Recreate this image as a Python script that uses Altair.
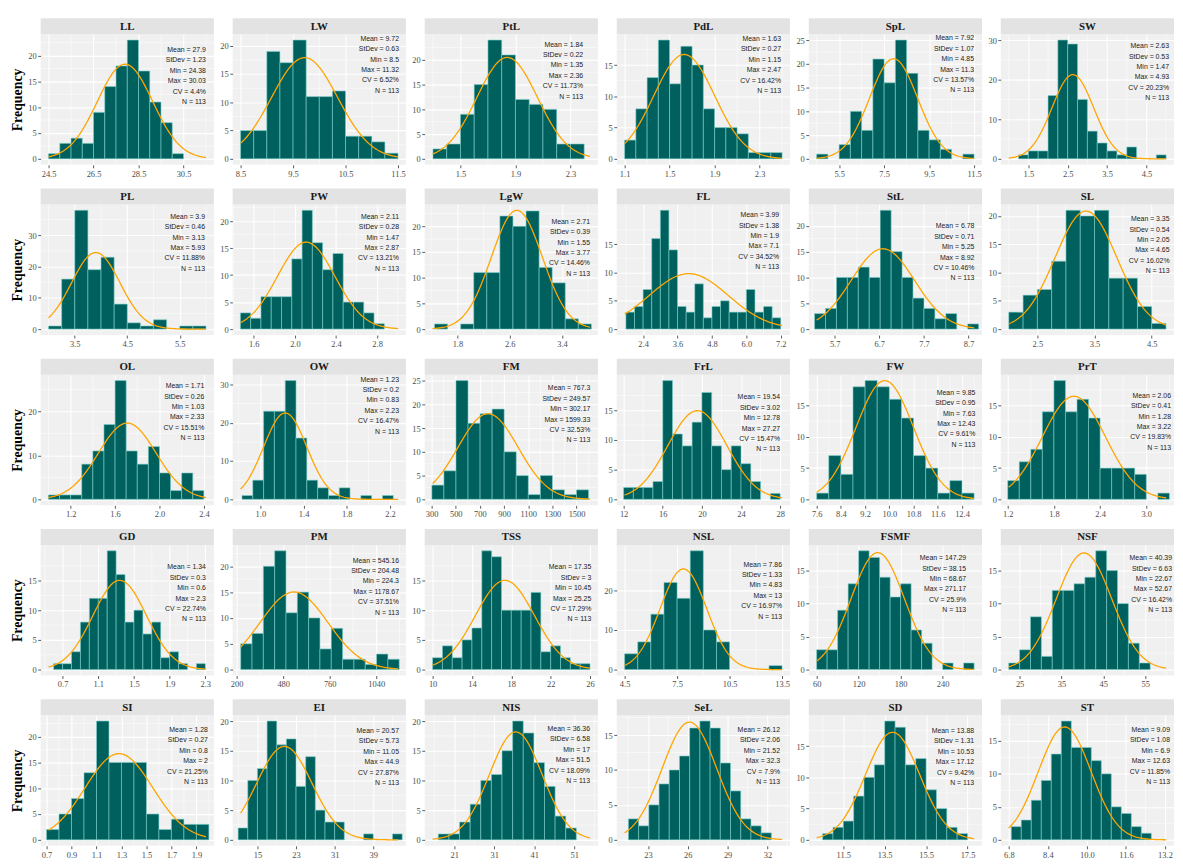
import altair as alt
import numpy as np
import pandas as pd

# ---------------- data ----------------
NAMES = ["LL", "LW", "PtL", "PdL", "SpL", "SW",
         "PL", "PW", "LgW", "FL", "StL", "SL",
         "OL", "OW", "FM", "FrL", "FW", "PrT",
         "GD", "PM", "TSS", "NSL", "FSMF", "NSF",
         "SI", "EI", "NIS", "SeL", "SD", "ST"]
MEAN = [27.9, 9.72, 1.84, 1.63, 7.92, 2.63,
        3.9, 2.11, 2.71, 3.99, 6.78, 3.35,
        1.71, 1.23, 767.3, 19.54, 9.85, 2.06,
        1.34, 545.16, 17.35, 7.86, 147.29, 40.39,
        1.28, 20.57, 36.36, 26.12, 13.88, 9.09]
STDEV = [1.23, 0.63, 0.22, 0.27, 1.07, 0.53,
         0.46, 0.28, 0.39, 1.38, 0.71, 0.54,
         0.26, 0.2, 249.57, 3.02, 0.95, 0.41,
         0.3, 204.48, 3, 1.33, 38.15, 6.63,
         0.27, 5.73, 6.58, 2.06, 1.31, 1.08]
MINV = [24.38, 8.5, 1.35, 1.15, 4.85, 1.47,
        3.13, 1.47, 1.55, 1.9, 5.25, 2.05,
        1.03, 0.83, 302.17, 12.78, 7.63, 1.28,
        0.6, 224.3, 10.45, 4.83, 68.67, 22.67,
        0.8, 11.05, 17, 21.52, 10.53, 6.9]
MAXV = [30.03, 11.32, 2.36, 2.47, 11.3, 4.93,
        5.93, 2.87, 3.77, 7.1, 8.92, 4.65,
        2.33, 2.23, 1599.33, 27.27, 12.43, 3.22,
        2.3, 1178.67, 25.25, 13, 271.17, 52.67,
        2, 44.9, 51.5, 32.3, 17.12, 12.63]
CV = [4.4, 6.52, 11.73, 16.42, 13.57, 20.23,
      11.88, 13.21, 14.46, 34.52, 10.46, 16.02,
      15.51, 16.47, 32.53, 15.47, 9.61, 19.83,
      22.74, 37.51, 17.29, 16.97, 25.9, 16.42,
      21.25, 27.87, 18.09, 7.9, 9.42, 11.85]
N_OBS = 113

BIN_START = [24.5, 8.5, 1.3, 1.1, 4.5, 1.25,
             3.0, 1.47, 1.45, 1.8, 5.25, 2.0,
             1.0, 0.83, 302.17, 12, 7.6, 1.2,
             0.6, 224.3, 10, 4.5, 60, 22.4,
             0.7, 11, 17, 21.52, 10.5, 6.9]
BIN_WIDTH = [0.5, 0.25, 0.1, 0.1, 0.5, 0.25,
             0.25, 0.1, 0.2, 0.3, 0.245, 0.25,
             0.1, 0.1, 99.78, 1, 0.4, 0.15,
             0.1, 68.17, 1, 0.75, 15, 2.6,
             0.1, 2, 2.654, 0.77, 0.5, 0.41]
COUNTS = [
    [1, 3, 4, 3, 9, 14, 18, 23, 17, 11, 7, 1],
    [5, 5, 19, 17, 21, 11, 11, 12, 4, 4, 3, 1],
    [2, 3, 9, 15, 24, 21, 12, 11, 10, 3, 3],
    [3, 8, 13, 19, 12, 18, 15, 8, 5, 5, 4, 1, 1, 1],
    [1, 0, 3, 10, 6, 21, 16, 25, 18, 6, 4, 2, 0, 1],
    [1, 2, 2, 16, 30, 29, 15, 7, 4, 2, 1, 3, 0, 0, 1],
    [1, 16, 38, 19, 23, 8, 2, 1, 3, 0, 1, 1],
    [3, 2, 6, 6, 6, 13, 22, 16, 11, 14, 5, 5, 3, 1],
    [1, 0, 1, 11, 11, 22, 20, 23, 12, 9, 2, 1],
    [3, 4, 7, 16, 21, 14, 4, 3, 8, 2, 4, 5, 3, 3, 7, 3, 4, 2],
    [3, 4, 10, 10, 12, 10, 23, 15, 10, 6, 4, 2, 3, 0, 1],
    [3, 6, 7, 12, 21, 20, 21, 9, 9, 4, 1],
    [1, 1, 1, 8, 11, 17, 27, 11, 8, 12, 6, 2, 6, 2],
    [1, 5, 23, 23, 31, 16, 5, 3, 1, 3, 0, 1, 0, 1],
    [3, 6, 25, 16, 18, 19, 10, 5, 1, 5, 2, 1, 2],
    [2, 2, 2, 3, 20, 11, 9, 13, 18, 9, 5, 9, 6, 3, 0, 1],
    [1, 7, 4, 18, 19, 18, 16, 13, 7, 5, 1, 3, 1],
    [3, 6, 8, 14, 19, 14, 16, 13, 5, 5, 5, 4, 0, 1],
    [1, 1, 3, 8, 12, 12, 20, 16, 8, 10, 6, 8, 2, 3, 1, 0, 1],
    [5, 7, 20, 23, 11, 15, 10, 4, 8, 2, 2, 1, 3, 2],
    [2, 4, 2, 5, 7, 20, 19, 10, 10, 10, 13, 3, 4, 2, 1, 1],
    [4, 7, 14, 22, 18, 30, 10, 7, 0, 0, 0, 1],
    [3, 3, 9, 13, 18, 17, 14, 11, 13, 6, 4, 0, 1, 0, 1],
    [1, 3, 8, 2, 12, 12, 13, 14, 18, 15, 10, 4, 1],
    [2, 5, 8, 13, 23, 15, 15, 15, 5, 2, 4, 3, 3],
    [2, 10, 12, 20, 16, 17, 9, 14, 5, 3, 3, 0, 0, 1, 0, 0, 1],
    [1, 1, 3, 6, 10, 11, 15, 20, 18, 13, 9, 4, 2],
    [3, 2, 5, 8, 10, 12, 16, 17, 16, 11, 7, 3, 2, 1],
    [1, 2, 3, 7, 10, 12, 19, 18, 12, 13, 8, 5, 2, 1],
    [2, 3, 6, 9, 13, 18, 14, 14, 12, 10, 5, 4, 2, 1],
]
X_DOMAIN = [
    [24.15, 31.85], [8.35, 11.65], [1.24, 2.50], [1.03, 2.57], [4.15, 11.85], [0.8, 5.2],
    [2.85, 6.15], [1.395, 3.08], [1.30, 3.95], [1.48, 7.52], [5.12, 9.0], [1.86, 4.89],
    [0.93, 2.49], [0.744, 2.347], [243, 1677], [11.3, 29.0], [7.34, 13.06], [1.11, 3.36],
    [0.454, 2.396], [176, 1219], [9.2, 26.8], [4.05, 13.95], [48.75, 296.25], [20.5, 61.9],
    [0.653, 2.04], [9.87, 45.77], [13.6, 56.9], [20.64, 33.7], [9.83, 18.2], [6.47, 13.57],
]
X_TICKS = [
    [24.5, 26.5, 28.5, 30.5], [8.5, 9.5, 10.5, 11.5], [1.5, 1.9, 2.3], [1.1, 1.5, 1.9, 2.3],
    [5.5, 7.5, 9.5, 11.5], [1.5, 2.5, 3.5, 4.5],
    [3.5, 4.5, 5.5], [1.6, 2.0, 2.4, 2.8], [1.8, 2.6, 3.4], [2.4, 3.6, 4.8, 6.0, 7.2],
    [5.7, 6.7, 7.7, 8.7], [2.5, 3.5, 4.5],
    [1.2, 1.6, 2.0, 2.4], [1.0, 1.4, 1.8, 2.2], [300, 500, 700, 900, 1100, 1300, 1500],
    [12, 16, 20, 24, 28], [7.6, 8.4, 9.2, 10.0, 10.8, 11.6, 12.4], [1.2, 1.8, 2.4, 3.0],
    [0.7, 1.1, 1.5, 1.9, 2.3], [200, 480, 760, 1040], [10, 14, 18, 22, 26],
    [4.5, 7.5, 10.5, 13.5], [60, 120, 180, 240], [25, 35, 45, 55],
    [0.7, 0.9, 1.1, 1.3, 1.5, 1.7, 1.9], [15, 23, 31, 39], [21, 31, 41, 51],
    [23, 26, 29, 32], [11.5, 13.5, 15.5, 17.5], [6.8, 8.4, 10.0, 11.6, 13.2],
]
Y5 = [0, 5, 10, 15, 20]
Y4 = [0, 5, 10, 15]
Y_TICKS = [
    Y5, Y5, Y5, Y4, [0, 5, 10, 15, 20, 25], [0, 10, 20, 30],
    [0, 10, 20, 30], Y5, Y5, Y4, Y5, Y5,
    [0, 10, 20], [0, 10, 20, 30], [0, 5, 10, 15, 20, 25], Y4, Y4, Y4,
    Y4, Y5, Y4, [0, 10, 20], Y4, Y4,
    Y5, Y5, Y5, Y4, Y4, Y4,
]

# ---------------- layout / style (not data) ----------------
TEXT_TOP = [16, 4.7, 10.7, 5, 4.3, 12.3,
            12.6, 12.6, 17.6, 11, 22.3, 15,
            11.7, 5, 14, 23, 18.4, 21.4,
            22.7, 16, 22.7, 20, 13.4, 13.4,
            15, 16, 14, 15, 16, 15]
TEXT_RIGHT = [8, 7, 15, 9, 8, 5,
              9, 7, 8, 11, 7.7, 4.5,
              9.7, 7, 7.7, 10, 6.7, 3,
              8, 7, 6.7, 8, 16, 2,
              6, 7, 8, 10, 8, 4]

W, H = 175, 132
STRIP_H = 16
BAR_FILL = "#00605D"
BAR_STROKE = "#7CCFCB"
CURVE = "#FFA500"
SERIF = "Liberation Serif"
SANS = "Liberation Sans"


def minor_positions(ticks, lo, hi):
    step = ticks[1] - ticks[0]
    pts = [ticks[0] - step / 2] + [(a + b) / 2 for a, b in zip(ticks[:-1], ticks[1:])] + [ticks[-1] + step / 2]
    return [p for p in pts if lo < p < hi]


def panel(i, first_col):
    lo, hi = X_DOMAIN[i]
    counts = COUNTS[i]
    b0, bw = BIN_START[i], BIN_WIDTH[i]
    m, s = MEAN[i], STDEV[i]

    bars = pd.DataFrame({
        "x0": [b0 + k * bw for k in range(len(counts))],
        "x1": [b0 + (k + 1) * bw for k in range(len(counts))],
        "n": counts,
    })
    bars = bars[bars["n"] > 0]

    inner = (hi - lo) / 1.1
    a, b = lo + 0.05 * inner, hi - 0.05 * inner
    cx = np.linspace(a, b, 150)
    cy = N_OBS * bw * np.exp(-0.5 * ((cx - m) / s) ** 2) / (s * np.sqrt(2 * np.pi))
    curve = pd.DataFrame({"cx": cx, "cy": cy})

    ymax = max(max(counts), float(cy.max()))
    xs = alt.Scale(domain=[lo, hi], nice=False, zero=False)
    ys = alt.Scale(domain=[-0.05 * ymax, 1.05 * ymax], nice=False, zero=False)

    xt = X_TICKS[i]
    fmt = "d" if all(float(t).is_integer() for t in xt) else ".1f"
    xaxis = alt.Axis(values=xt, format=fmt, title=None, grid=True, gridColor="white",
                     gridWidth=1.1, domain=False, tickColor="#333333", tickSize=3,
                     tickWidth=0.8, labelFont=SERIF, labelFontSize=8.5,
                     labelColor="#4D4D4D", labelPadding=1.5, labelFlush=False,
                     labelOverlap=False, labelSeparation=0, labelBound=False,
                     minExtent=14, maxExtent=14)
    yaxis_kw = dict(values=Y_TICKS[i], format="d", grid=True, gridColor="white",
                    gridWidth=1.1, domain=False, tickColor="#333333", tickSize=3,
                    tickWidth=0.8, labelFont=SERIF, labelFontSize=8.5,
                    labelColor="#4D4D4D", labelPadding=1.5, labelOverlap=False,
                    minExtent=13, maxExtent=13)
    if first_col:
        yaxis = alt.Axis(title="Frequency", titleFont=SERIF, titleFontSize=14,
                         titleFontWeight="bold", titleColor="#000000", titlePadding=3,
                         **yaxis_kw)
    else:
        yaxis = alt.Axis(title=None, **yaxis_kw)

    xminor = pd.DataFrame({"v": minor_positions(xt, lo, hi)})
    yminor = pd.DataFrame({"w": minor_positions(Y_TICKS[i], -0.05 * ymax, 1.05 * ymax)})

    g_x = alt.Chart(xminor).mark_rule(color="white", strokeWidth=0.5).encode(
        x=alt.X("v:Q", scale=xs, axis=xaxis))
    g_y = alt.Chart(yminor).mark_rule(color="white", strokeWidth=0.5).encode(
        y=alt.Y("w:Q", scale=ys, axis=yaxis))

    bar_layer = alt.Chart(bars).mark_rect(fill=BAR_FILL, stroke=BAR_STROKE,
                                           strokeWidth=0.6).encode(
        x=alt.X("x0:Q", scale=xs, axis=xaxis),
        x2="x1:Q",
        y=alt.Y("n:Q", scale=ys, axis=yaxis),
        y2=alt.datum(0),
    )
    line_layer = alt.Chart(curve).mark_line(color=CURVE, strokeWidth=1.3).encode(
        x=alt.X("cx:Q", scale=xs, axis=xaxis),
        y=alt.Y("cy:Q", scale=ys, axis=yaxis),
    )

    def g(v):
        return f"{v:g}"

    txt = "\n".join([
        f"Mean = {g(m)}", f"StDev = {g(s)}", f"Min = {g(MINV[i])}",
        f"Max = {g(MAXV[i])}", f"CV = {g(CV[i])}%", f"N = {N_OBS}",
    ])
    stats = alt.Chart(pd.DataFrame({"t": [txt]})).mark_text(
        align="right", baseline="top", lineBreak="\n", lineHeight=10.5,
        font=SANS, fontSize=7, color="#1A1A1A").encode(
        x=alt.value(W - TEXT_RIGHT[i]), y=alt.value(TEXT_TOP[i] - 4), text="t:N")

    head = pd.DataFrame({"name": [NAMES[i]]})
    strip = alt.Chart(head).mark_rect(fill="#E3E3E3").encode(
        x=alt.value(0), x2=alt.value(W), y=alt.value(-STRIP_H), y2=alt.value(0))
    strip_t = alt.Chart(head).mark_text(font=SERIF, fontSize=11, fontWeight="bold",
                                        color="#1A1A1A", baseline="middle").encode(
        x=alt.value(W / 2), y=alt.value(-STRIP_H / 2 + 0.5), text="name:N")

    return alt.layer(g_x, g_y, bar_layer, line_layer, stats, strip, strip_t).properties(
        width=W, height=H)


rows = []
for r in range(5):
    cells = [panel(r * 6 + c, c == 0) for c in range(6)]
    rows.append(alt.hconcat(*cells, spacing=5))

chart = alt.vconcat(*rows, spacing=10).properties(
    padding={"left": 3, "top": 6, "right": 0, "bottom": 0},
    background="white",
).configure_view(fill="#F0F0F0", stroke=None).configure_axis(
    labelOverlap=False, labelSeparation=0)

chart.save("out.html", embed_options={"renderer": "svg", "actions": False})
